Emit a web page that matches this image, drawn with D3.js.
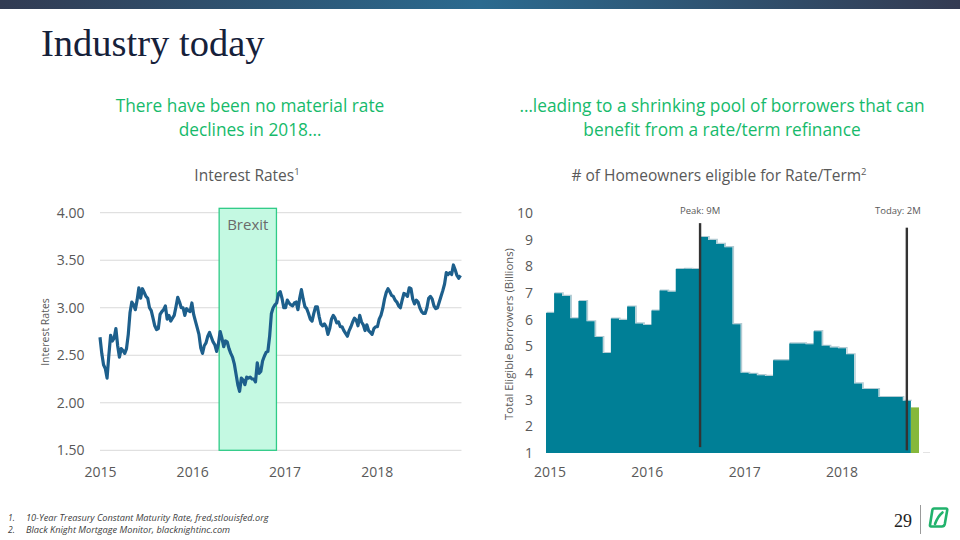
<!DOCTYPE html>
<html>
<head>
<meta charset="utf-8">
<script src="https://cdn.jsdelivr.net/npm/d3@7"></script>
<style>
  html, body { margin: 0; padding: 0; background: #ffffff; }
  svg { display: block; }
</style>
</head>
<body>
<svg id="chart" width="960" height="540"></svg>
<script>
// ---------------- DATA ----------------
// 10-year treasury rate, weekly observations starting 2015-01-01
const rateStart = "2015-01-01";
const rateValues = [
  2.69,2.52,2.40,2.36,2.26,2.50,2.71,2.65,2.68,2.78,2.60,2.48,2.57,2.55,2.52,2.57,2.72,2.95,3.06,3.03,
  2.98,3.08,3.21,3.10,3.20,3.16,3.12,3.10,3.00,2.97,2.89,2.81,2.77,2.78,2.93,2.96,2.98,3.02,2.88,2.92,
  2.86,2.89,2.92,3.01,3.11,3.06,3.00,3.00,2.92,2.99,2.97,2.96,3.05,2.93,2.86,2.79,2.72,2.58,2.52,2.60,
  2.63,2.70,2.74,2.69,2.64,2.61,2.54,2.62,2.75,2.68,2.59,2.65,2.64,2.57,2.52,2.48,2.41,2.30,2.19,2.12,
  2.26,2.24,2.19,2.27,2.26,2.27,2.25,2.25,2.22,2.42,2.31,2.33,2.44,2.49,2.53,2.54,2.70,2.94,3.00,3.03,
  3.05,3.15,3.17,3.10,3.00,3.00,3.08,3.05,3.03,3.02,3.05,3.06,2.98,3.10,3.19,3.09,3.01,2.99,2.94,2.88,
  2.86,2.94,3.01,3.01,2.91,2.83,2.81,2.83,2.80,2.72,2.78,2.88,2.92,2.89,2.84,2.85,2.80,2.80,2.76,2.73,
  2.70,2.76,2.80,2.85,2.89,2.87,2.81,2.92,2.85,2.82,2.76,2.82,2.76,2.74,2.72,2.78,2.80,2.80,2.88,2.92,
  2.99,3.09,3.16,3.20,3.17,3.13,3.12,3.08,3.06,3.02,3.00,3.08,3.15,3.14,3.12,3.21,3.20,3.09,3.04,3.08,
  3.06,3.00,2.96,2.94,2.94,3.00,3.10,3.12,3.09,3.02,2.99,3.00,3.06,3.12,3.18,3.25,3.37,3.35,3.37,3.35,
  3.45,3.40,3.34,3.31,3.34
];
const rateYTicks = [1.5, 2.0, 2.5, 3.0, 3.5, 4.0];
const rateXTicks = ["2015-01-01", "2016-01-01", "2017-01-01", "2018-01-01"];
const brexitRange = ["2016-04-17", "2016-11-30"];
const brexitLabel = "Brexit";

// Eligible borrowers, monthly Jan 2015 .. Sep 2018, plus current month (Oct 2018)
const borrowerStart = "2015-01-01";
const borrowerValues = [
  6.26,6.99,6.89,6.05,6.70,5.94,5.35,4.75,6.04,5.99,6.49,5.86,
  5.80,6.34,7.09,7.05,7.90,7.91,7.90,9.10,8.99,8.84,8.72,5.83,
  4.01,3.97,3.92,3.89,4.48,4.48,5.11,5.11,5.08,5.57,5.02,4.96,
  4.93,4.70,3.61,3.40,3.40,3.10,3.10,3.10,2.96
];
const borrowerToday = 2.71;
const borrowerYTicks = [1,2,3,4,5,6,7,8,9,10];
const borrowerYearLabels = ["2015", "2016", "2017", "2018"];
const peakMarker = { month: "2016-08", label: "Peak: 9M", top: 9.62, bottom: 1.22 };
const todayMarker = { month: "2018-09", label: "Today: 2M", top: 9.45, bottom: 1.1 };

// ---------------- DRAW ----------------
const svg = d3.select("#chart");
const FONT = "'Open Sans', 'Noto Sans', sans-serif";
const GRAY = "#595959";

// header bar gradient
const defs = svg.append("defs");
const grad = defs.append("linearGradient").attr("id", "hdr").attr("x1", "0%").attr("x2", "100%");
grad.append("stop").attr("offset", "0%").attr("stop-color", "#323b52");
grad.append("stop").attr("offset", "50%").attr("stop-color", "#2b6a8f");
grad.append("stop").attr("offset", "100%").attr("stop-color", "#343b52");
svg.append("rect").attr("x", 0).attr("y", 0).attr("width", 960).attr("height", 9).attr("fill", "url(#hdr)");

// title
svg.append("text").attr("x", 41).attr("y", 56)
  .attr("font-family", "'Liberation Serif', 'DejaVu Serif', serif")
  .attr("font-size", 38.5).attr("fill", "#16213a").text("Industry today");

// subtitles
const GREEN = "#16ba6b";
function subtitle(lines, cx) {
  lines.forEach((t, i) => {
    svg.append("text").attr("x", cx).attr("y", 112 + i * 24)
      .attr("text-anchor", "middle").attr("font-family", FONT)
      .attr("font-size", 17.3).attr("fill", GREEN).text(t);
  });
}
subtitle(["There have been no material rate", "declines in 2018…"], 250);
subtitle(["…leading to a shrinking pool of borrowers that can", "benefit from a rate/term refinance"], 722);

// chart titles
function chartTitle(main, sup, cx) {
  const t = svg.append("text").attr("x", cx).attr("y", 181).attr("text-anchor", "middle")
    .attr("font-family", FONT).attr("font-size", 15.5).attr("fill", GRAY);
  t.append("tspan").text(main);
  t.append("tspan").attr("font-size", 9.5).attr("dy", -6).text(sup);
}
chartTitle("Interest Rates", "1", 247);
chartTitle("# of Homeowners eligible for Rate/Term", "2", 719);

// ---------- Left chart: interest rates ----------
const parse = d3.timeParse("%Y-%m-%d");
const r0 = parse(rateStart);
const rateData = rateValues.map((v, i) => ({ date: d3.timeDay.offset(r0, 7 * i), value: v }));

const xL = d3.scaleTime().domain([parse("2015-01-01"), parse("2019-01-01")]).range([100, 468.8]);
const yL = d3.scaleLinear().domain([1.5, 4]).range([450.3, 212.7]);
const gridEnd = xL(rateData[rateData.length - 1].date) + 1;

const gL = svg.append("g");
gL.selectAll("line.grid").data(rateYTicks).enter().append("line")
  .attr("x1", xL.range()[0]).attr("x2", gridEnd)
  .attr("y1", d => yL(d)).attr("y2", d => yL(d))
  .attr("stroke", "#d9d9d9").attr("stroke-width", 1);

// Brexit box
const bx0 = xL(parse(brexitRange[0])), bx1 = xL(parse(brexitRange[1]));
gL.append("rect").attr("x", bx0).attr("y", yL(4.046)).attr("width", bx1 - bx0)
  .attr("height", yL(1.5) - yL(4.046))
  .attr("fill", "#c4f9e2").attr("stroke", "#2fcb87").attr("stroke-width", 1.3);
gL.append("text").attr("x", (bx0 + bx1) / 2).attr("y", yL(3.82))
  .attr("text-anchor", "middle").attr("font-family", FONT).attr("font-size", 15)
  .attr("fill", "#6b6b6b").text(brexitLabel);

// rate line
gL.append("path").datum(rateData)
  .attr("d", d3.line().x(d => xL(d.date)).y(d => yL(d.value)))
  .attr("fill", "none").attr("stroke", "#1d5f8c").attr("stroke-width", 3.2)
  .attr("stroke-linejoin", "round");

// axes
const axL = gL.append("g").attr("transform", `translate(${xL.range()[0]},0)`)
  .call(d3.axisLeft(yL).tickValues(rateYTicks).tickFormat(d3.format(".2f")).tickSize(0).tickPadding(15.5));
const axB = gL.append("g").attr("transform", `translate(0,${yL(1.5)})`)
  .call(d3.axisBottom(xL).tickValues(rateXTicks.map(parse)).tickFormat(d3.timeFormat("%Y")).tickSize(0).tickPadding(17));
[axL, axB].forEach(a => {
  a.select(".domain").remove();
  a.selectAll("text").attr("font-family", FONT).attr("font-size", 14).attr("fill", GRAY);
});
gL.append("text").attr("transform", "translate(49,332) rotate(-90)")
  .attr("text-anchor", "middle").attr("font-family", FONT).attr("font-size", 10.5)
  .attr("fill", GRAY).text("Interest Rates");

// ---------- Right chart: eligible borrowers ----------
const b0 = parse(borrowerStart);
const monthFmt = d3.timeFormat("%Y-%m");
const nMonths = borrowerValues.length + 1;
const months = d3.range(nMonths).map(i => monthFmt(d3.timeMonth.offset(b0, i)));
const teal = borrowerValues.map((v, i) => ({ month: months[i], value: v }));
const todayBar = { month: months[nMonths - 1], value: borrowerToday };

const xR = d3.scaleBand().domain(months).range([546, 919]).padding(0);
const yR = d3.scaleLinear().domain([1, 10]).range([453, 213]);

const gR = svg.append("g");
const stepPts = teal.map(d => ({ x: xR(d.month), v: d.value }));
stepPts.push({ x: xR(teal[teal.length - 1].month) + xR.bandwidth(), v: teal[teal.length - 1].value });
const area = d3.area().curve(d3.curveStepAfter).x(d => d.x).y0(yR(1)).y1(d => yR(d.v));
const edge = d3.line().curve(d3.curveStepAfter).x(d => d.x).y(d => yR(d.v));
gR.append("path").datum(stepPts).attr("d", edge)
  .attr("transform", "translate(1,-0.5)")
  .attr("fill", "none").attr("stroke", "#b3cbd3").attr("stroke-width", 1.2);
gR.append("path").datum(stepPts).attr("d", area).attr("fill", "#007f96");
gR.append("rect").attr("x", xR(todayBar.month)).attr("y", yR(todayBar.value))
  .attr("width", xR.bandwidth()).attr("height", yR(1) - yR(todayBar.value))
  .attr("fill", "#86b83c");
gR.append("line").attr("x1", xR(todayBar.month) + xR.bandwidth() + 4).attr("x2", xR(todayBar.month) + xR.bandwidth() + 11)
  .attr("y1", yR(1) - 0.5).attr("y2", yR(1) - 0.5).attr("stroke", "#e3e3e3").attr("stroke-width", 1);

// markers
[[peakMarker, 0], [todayMarker, 0.5]].forEach(([m, off]) => {
  const x = xR(m.month) + off * xR.bandwidth();
  gR.append("line").attr("x1", x).attr("x2", x).attr("y1", yR(m.top)).attr("y2", yR(m.bottom))
    .attr("stroke", "#333333").attr("stroke-width", 2.4);
  gR.append("text").attr("x", x - (off ? 9 : 0)).attr("y", 214).attr("text-anchor", "middle")
    .attr("font-family", FONT).attr("font-size", 9.5).attr("fill", GRAY).text(m.label);
});

// axes
const ayR = gR.append("g").attr("transform", `translate(546,0)`)
  .call(d3.axisLeft(yR).tickValues(borrowerYTicks).tickFormat(d3.format("d")).tickSize(0).tickPadding(13));
const janMonths = borrowerYearLabels.map(y => y + "-01");
const axR = gR.append("g").attr("transform", `translate(0,${yR(1)})`)
  .call(d3.axisBottom(xR).tickValues(janMonths).tickFormat(d => d.slice(0, 4)).tickSize(0).tickPadding(14));
[ayR, axR].forEach(a => {
  a.select(".domain").remove();
  a.selectAll("text").attr("font-family", FONT).attr("font-size", 14).attr("fill", GRAY);
});
gR.append("text").attr("transform", "translate(513,334) rotate(-90)")
  .attr("text-anchor", "middle").attr("font-family", FONT).attr("font-size", 11.3)
  .attr("fill", GRAY).text("Total Eligible Borrowers (Billions)");

// ---------- Footer ----------
const notes = ["10-Year Treasury Constant Maturity Rate, fred,stlouisfed.org", "Black Knight Mortgage Monitor, blacknightinc.com"];
notes.forEach((t, i) => {
  const y = 521 + i * 11.5;
  svg.append("text").attr("x", 8).attr("y", y).attr("font-family", FONT).attr("font-style", "italic")
    .attr("font-size", 8.5).attr("fill", "#404040").text((i + 1) + ".");
  svg.append("text").attr("x", 26).attr("y", y).attr("font-family", FONT).attr("font-style", "italic")
    .attr("font-size", 9.2).attr("fill", "#404040").text(t);
});
svg.append("text").attr("x", 912).attr("y", 527).attr("text-anchor", "end")
  .attr("font-family", "'Liberation Serif', serif").attr("font-size", 18).attr("fill", "#222").text("29");
svg.append("line").attr("x1", 920.5).attr("x2", 920.5).attr("y1", 505).attr("y2", 534)
  .attr("stroke", "#9a9a9a").attr("stroke-width", 1);
// logo: green leaf outline with a diagonal vein
const logo = svg.append("g").attr("transform", "translate(929,507)");
logo.append("path")
  .attr("d", "M5,1.5 L17,1.5 Q18.5,1.5 18.2,3.2 L15.8,17 Q15.3,19.5 12.8,19.5 L2,19.5 Q0.8,19.5 1,18 L3.3,3.5 Q3.6,1.5 5,1.5 Z")
  .attr("fill", "#ffffff").attr("stroke", "#21b26c").attr("stroke-width", 2.6).attr("stroke-linejoin", "round");
logo.append("path").attr("d", "M13.5,5.5 Q9,9 6,17").attr("stroke", "#21b26c").attr("stroke-width", 2.6)
  .attr("fill", "none").attr("stroke-linecap", "round");
</script>
</body>
</html>
